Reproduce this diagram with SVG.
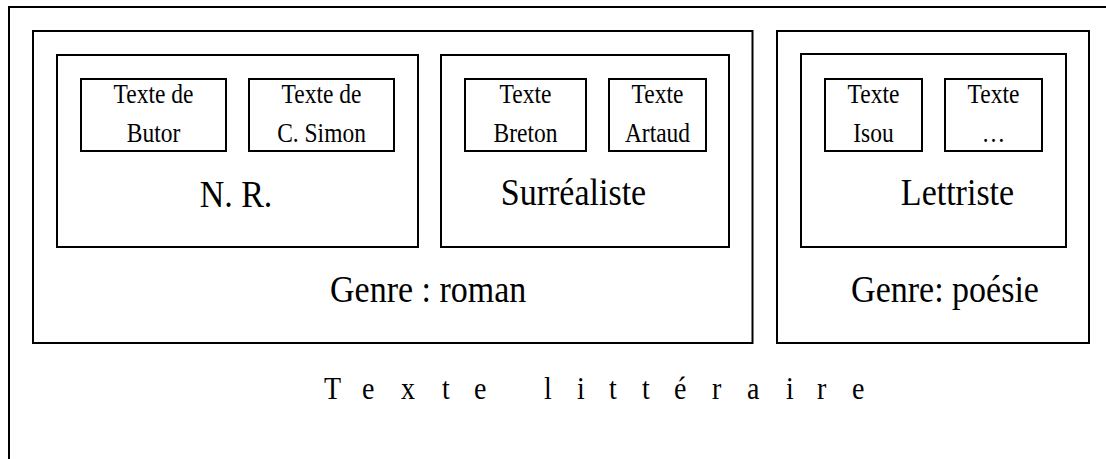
<svg xmlns="http://www.w3.org/2000/svg" width="1106" height="459" viewBox="0 0 1106 459">
  <style>
    .box { fill: none; stroke: #000; stroke-width: 2; }
    text { font-family: "Liberation Serif", "Times New Roman", serif; fill: #000; }
    .small { font-size: 23.5px; text-anchor: middle; }
    .big { font-size: 34px; }
    .mid { text-anchor: middle; }
    .title { font-size: 28px; }
  </style>
  <rect width="1106" height="459" fill="#fff"/>

  <!-- outer frame: open to the right and bottom -->
  <g id="texte-litteraire">
    <path class="box" d="M9,459 V7 H1106"/>
    <text class="title" transform="translate(0,399) scale(1,1.1)" x="324 362 401 442 474 510 544 577 609 642 674 712 747 786 817 852" y="0">Texte littéraire</text>
  </g>

  <!-- genre: roman -->
  <g id="genre-roman">
    <rect class="box" x="33" y="31" width="719.5" height="312"/>
    <text class="big" transform="translate(330,302) scale(1,1.1)">Genre : roman</text>
  </g>

  <g id="nouveau-roman">
    <rect class="box" x="57" y="55" width="361" height="192"/>
    <text class="big mid" transform="translate(236,207) scale(1,1.1)">N. R.</text>
  </g>
  <g id="texte-butor">
    <rect class="box" x="81" y="79" width="145" height="72"/>
    <text class="small" transform="translate(153.5,103) scale(1,1.12)">Texte de</text>
    <text class="small" transform="translate(153.5,142) scale(1,1.12)">Butor</text>
  </g>
  <g id="texte-simon">
    <rect class="box" x="249" y="79" width="145" height="72"/>
    <text class="small" transform="translate(321.5,103) scale(1,1.12)">Texte de</text>
    <text class="small" transform="translate(321.5,142) scale(1,1.12)">C. Simon</text>
  </g>

  <g id="surrealiste">
    <rect class="box" x="441" y="55" width="288" height="192"/>
    <text class="big mid" transform="translate(573.5,205) scale(1,1.1)">Surréaliste</text>
  </g>
  <g id="texte-breton">
    <rect class="box" x="465" y="79" width="121" height="72"/>
    <text class="small" transform="translate(525.5,103) scale(1,1.12)">Texte</text>
    <text class="small" transform="translate(525.5,142) scale(1,1.12)">Breton</text>
  </g>
  <g id="texte-artaud">
    <rect class="box" x="609" y="79" width="97" height="72"/>
    <text class="small" transform="translate(657.5,103) scale(1,1.12)">Texte</text>
    <text class="small" transform="translate(657.5,142) scale(1,1.12)">Artaud</text>
  </g>

  <!-- genre: poésie -->
  <g id="genre-poesie">
    <rect class="box" x="777" y="31" width="312" height="312"/>
    <text class="big mid" transform="translate(945,302) scale(1,1.1)">Genre: poésie</text>
  </g>
  <g id="lettriste">
    <rect class="box" x="801" y="54" width="265" height="193"/>
    <text class="big mid" transform="translate(957.5,205) scale(1,1.1)">Lettriste</text>
  </g>
  <g id="texte-isou">
    <rect class="box" x="825" y="79" width="97" height="72"/>
    <text class="small" transform="translate(873.5,103) scale(1,1.12)">Texte</text>
    <text class="small" transform="translate(873.5,142) scale(1,1.12)">Isou</text>
  </g>
  <g id="texte-autre">
    <rect class="box" x="945" y="79" width="97" height="72"/>
    <text class="small" transform="translate(993.5,103) scale(1,1.12)">Texte</text>
    <text class="small" transform="translate(993.5,142) scale(1,1.12)">…</text>
  </g>

  <!-- no connectors in this diagram -->
  <g id="connectors"/>
</svg>
